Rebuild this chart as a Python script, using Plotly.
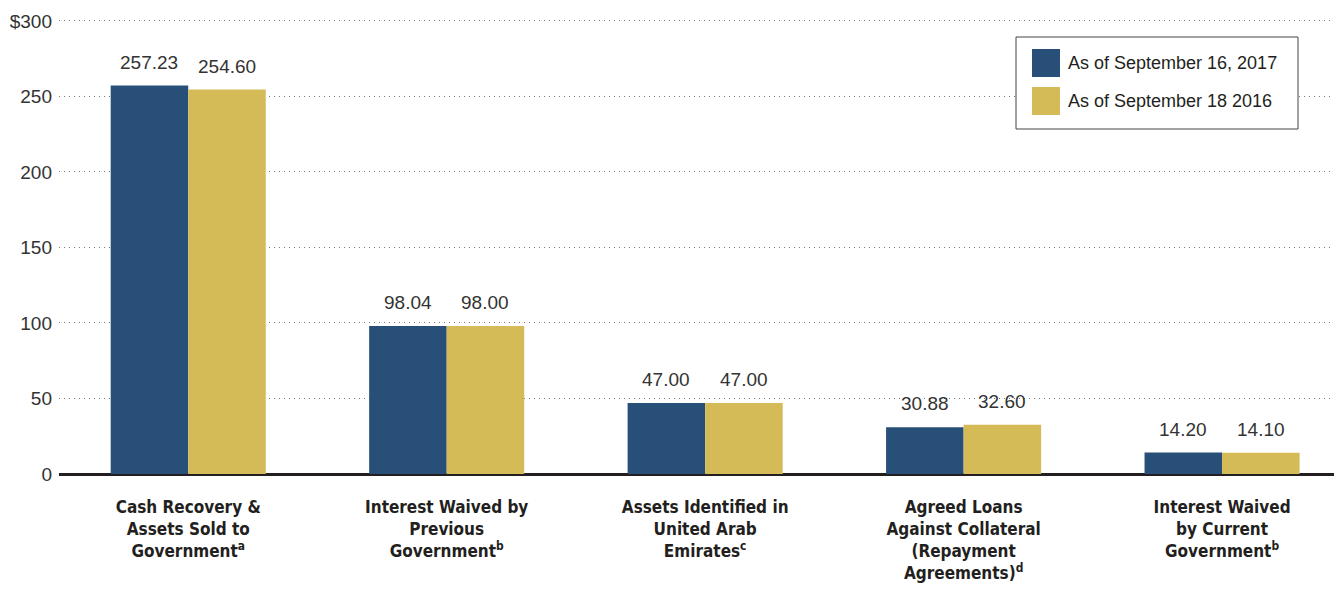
"""Grouped bar chart: recovered assets by category, 2017 vs 2016"""
import plotly.graph_objects as go

# ----- data -----
categories = [
    "Cash Recovery &<br>Assets Sold to<br>Government<sup>a</sup>",
    "Interest Waived by<br>Previous<br>Government<sup>b</sup>",
    "Assets Identified in<br>United Arab<br>Emirates<sup>c</sup>",
    "Agreed Loans<br>Against Collateral<br>(Repayment<br>Agreements)<sup>d</sup>",
    "Interest Waived<br>by Current<br>Government<sup>b</sup>",
]
series_names = ["As of September 16, 2017", "As of September 18 2016"]
values_2017 = [257.23, 98.04, 47.00, 30.88, 14.20]
values_2016 = [254.60, 98.00, 47.00, 32.60, 14.10]
y_ticks = [0, 50, 100, 150, 200, 250, 300]
y_ticklabels = ["0", "50", "100", "150", "200", "250", "$300"]

colors = ["#284f77", "#d4bb57"]
BODY = 8  # the html body adds an 8px margin around the plot div
W, H = 1342 - BODY, 589 - BODY
M = dict(l=51, r=0, t=11, b=115)

fig = go.Figure()
x_idx = list(range(len(categories)))
for name, vals, col in zip(series_names, [values_2017, values_2016], colors):
    fig.add_trace(go.Bar(
        x=x_idx, y=vals, name=name,
        marker=dict(color=col, line=dict(width=0)),
        hovertemplate="%{y:.2f}<extra>" + name + "</extra>",
    ))

# value labels above each bar (offset half a bar to either side)
bar_px = 77.5
for shift, vals in zip([-bar_px / 2, bar_px / 2], [values_2017, values_2016]):
    for i, v in enumerate(vals):
        fig.add_annotation(
            x=i, y=v, text=f"{v:.2f}", showarrow=False,
            xshift=shift, yshift=11, yanchor="bottom",
            font=dict(family="Liberation Sans, Arial, sans-serif", size=19, color="#333333"),
        )

# custom legend (big square swatches in a bordered box), positions in screen px
pw = W - M["l"] - M["r"]
ph = H - M["t"] - M["b"]


def px_x(px):
    return (px - BODY - M["l"]) / pw


def px_y(py):
    return 1 - (py - BODY - M["t"]) / ph


fig.add_shape(type="rect", xref="paper", yref="paper",
              x0=px_x(1016), x1=px_x(1298), y0=px_y(129), y1=px_y(37),
              line=dict(color="#444444", width=1), fillcolor="white", layer="above")
for k, (name, col) in enumerate(zip(series_names, colors)):
    top = 49 + k * 38
    fig.add_shape(type="rect", xref="paper", yref="paper",
                  x0=px_x(1032), x1=px_x(1060), y0=px_y(top + 28), y1=px_y(top),
                  line=dict(width=0), fillcolor=col, layer="above")
    fig.add_annotation(xref="paper", yref="paper", x=px_x(1066), y=px_y(top + 14),
                       text=name, showarrow=False, xanchor="left", yanchor="middle",
                       font=dict(family="Liberation Sans, Arial, sans-serif",
                                 size=18, color="#231f20"))

fig.update_layout(
    width=W, height=H,
    margin=M,
    barmode="group", bargap=0.4, bargroupgap=0,
    showlegend=False,
    plot_bgcolor="white", paper_bgcolor="white",
    font=dict(family="Liberation Sans, Arial, sans-serif", color="#231f20"),
)
fig.update_xaxes(
    tickmode="array", tickvals=x_idx, ticktext=categories,
    range=[-0.5, 4.464], showgrid=False, ticks="", showline=False, zeroline=False,
    ticklabelstandoff=21, automargin=False,
    tickfont=dict(family="Liberation Sans Narrow, DejaVu Sans Condensed, sans-serif",
                  size=17, color="#231f20", weight="bold"),
)
fig.update_yaxes(
    range=[0, 301.3], tickmode="array", tickvals=y_ticks, ticktext=y_ticklabels,
    showgrid=True, gridcolor="#777777", gridwidth=1, griddash="1px,4px",
    zeroline=True, zerolinecolor="#231f20", zerolinewidth=3,
    ticks="", showline=False, ticklabelstandoff=6, automargin=False,
    tickfont=dict(family="Liberation Sans, Arial, sans-serif", size=19, color="#333333"),
)

fig.write_html("out.html")
